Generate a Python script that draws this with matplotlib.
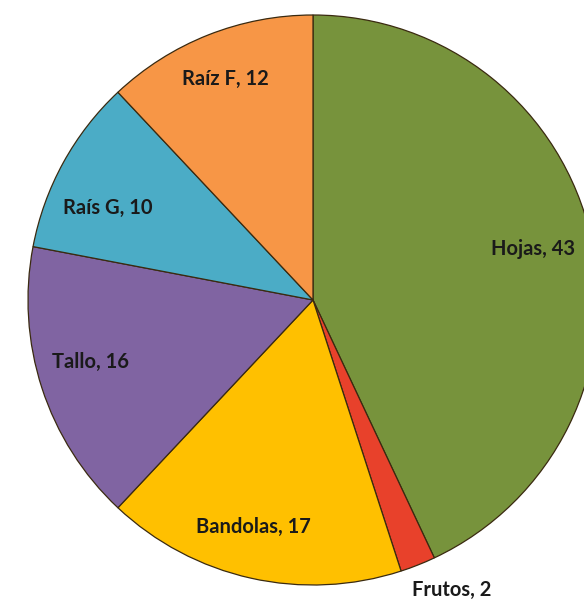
import matplotlib
matplotlib.use("Agg")
import matplotlib.pyplot as plt

categories = ["Hojas", "Frutos", "Bandolas", "Tallo", "Raís G", "Raíz F"]
values = [43, 2, 17, 16, 10, 12]
colors = ["#77933C", "#E8412B", "#FFC000", "#8064A2", "#4BACC6", "#F79646"]

W, H = 584, 602
fig = plt.figure(figsize=(W / 100, H / 100), dpi=100)
ax = fig.add_axes([0, 0, 1, 1])
ax.set_xlim(0, W)
ax.set_ylim(0, H)
ax.set_aspect("equal")
ax.axis("off")

cx, cy, r = 313, H - 300, 285
ax.pie(values, colors=colors, startangle=90, counterclock=False,
       center=(cx, cy), radius=r,
       wedgeprops=dict(edgecolor="#3a2a10", linewidth=0.9))
ax.set_xlim(0, W)
ax.set_ylim(0, H)

label_px = [(533, 249), (452, 590), (253, 527), (91, 362), (108, 208), (225, 79)]
for name, v, (px, py) in zip(categories, values, label_px):
    ax.text(px, H - py, f"{name}, {v}", ha="center", va="center",
            fontsize=14.5, fontweight="bold", family=["Lato", "DejaVu Sans"],
            color="#1a1a1a")

fig.savefig("out.png", dpi=100)
